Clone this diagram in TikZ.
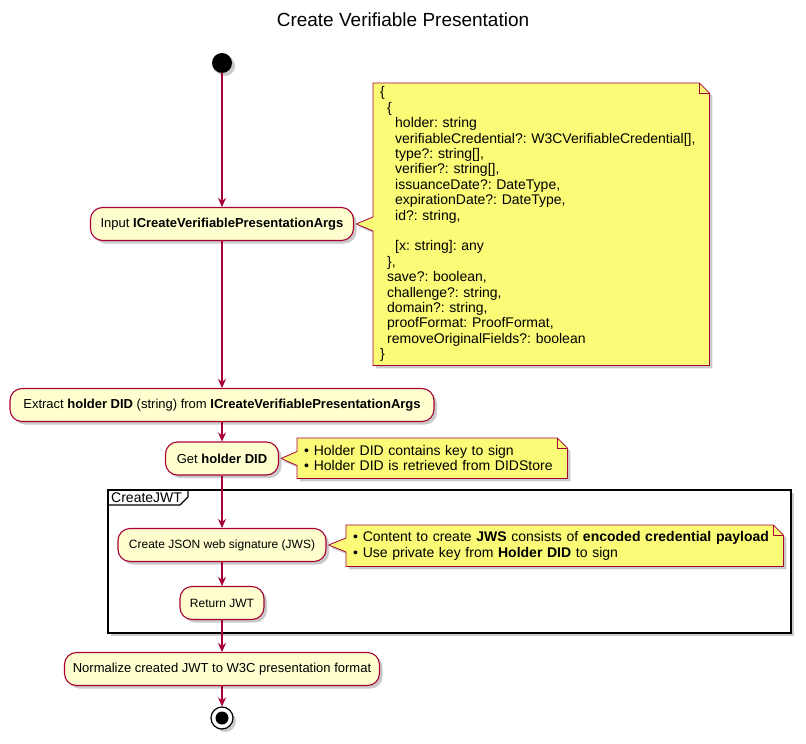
\documentclass[tikz,border=0pt]{standalone}
\usepackage{fontspec}
\setmainfont{Liberation Sans}
\usetikzlibrary{arrows.meta,shadows,backgrounds,calc}
\frenchspacing
\definecolor{umlred}{HTML}{A80036}
\definecolor{actfill}{HTML}{FEFECE}
\definecolor{notefill}{HTML}{FBFB77}
\tikzset{
  uml shadow/.style={drop shadow={shadow xshift=3pt, shadow yshift=-3pt, fill=black!35, opacity=0.6}},
  act/.style={rectangle, rounded corners=12pt, draw=umlred, line width=1.1pt, fill=actfill,
    minimum height=33pt, inner sep=0pt, uml shadow, font=\fontsize{13}{15}\selectfont},
  actsmall/.style={act, font=\fontsize{12}{14}\selectfont},
  notetext/.style={rectangle, inner xsep=7pt, inner ysep=0pt, align=left, anchor=north west,
    font=\fontsize{14}{15.4}\selectfont},
  notebody/.style={draw=umlred, line width=0.8pt, fill=notefill, uml shadow},
  noteline/.style={draw=umlred, line width=0.8pt},
  flow/.style={draw=umlred, line width=1.1pt, -{Stealth[length=9pt, width=8pt, inset=3pt]}},
  startdot/.style={circle, fill=black, minimum size=20pt, inner sep=0pt, uml shadow},
  stopdot/.style={circle, draw=black, line width=1.2pt, fill=white, minimum size=22pt, inner sep=0pt,
    uml shadow, path picture={\fill[black] (path picture bounding box.center) circle (6.5pt);}},
}
% note outline with folded corner and a pointer to the target node
\newcommand{\drawnote}[2]{%
  \begin{pgfonlayer}{background}
    \draw[notebody] (#1.north west) -- ([xshift=-10pt]#1.north east) -- ([yshift=-10pt]#1.north east)
      -- (#1.south east) -- (#1.south west) -- ($(#1.west |- #2.east)+(0,7)$)
      -- ([xshift=2pt]#2.east) -- ($(#1.west |- #2.east)+(0,-7)$) -- cycle;
    \draw[noteline] ([xshift=-10pt]#1.north east) |- ([yshift=-10pt]#1.north east);
  \end{pgfonlayer}}
\begin{document}
\begin{tikzpicture}[x=1pt, y=-1pt, line join=round]
\useasboundingbox (0,0) rectangle (806,744);
\node[font=\fontsize{19}{22}\selectfont] (title) at (403,20) {Create Verifiable Presentation};

% group frame
\begin{pgfonlayer}{background}
  \draw[black, line width=1.3pt, fill=white, uml shadow] (108,490) rectangle (791,633);
\end{pgfonlayer}
\draw[black, line width=1.1pt] (108,505) -- (180,505) -- (188,497) -- (188,490);
\node[anchor=west, inner sep=0pt, font=\fontsize{14}{16}\selectfont] (jwtlabel) at (111,497.5) {CreateJWT};

% activities
\node[startdot] (start) at (222,63) {};
\node[act, minimum width=263] (input) at (222,224) {Input \textbf{ICreateVerifiablePresentationArgs}};
\node[act, minimum width=424] (extract) at (222,405) {Extract \textbf{holder DID} (string) from \textbf{ICreateVerifiablePresentationArgs}};
\node[act, minimum width=113] (getdid) at (222,458.5) {Get \textbf{holder DID}};
\node[actsmall, minimum width=208] (jws) at (222,545) {Create JSON web signature (JWS)};
\node[actsmall, minimum width=84] (retjwt) at (222,603) {Return JWT};
\node[act, minimum width=315] (normalize) at (222,669) {Normalize created JWT to W3C presentation format};
\node[stopdot] (stop) at (222,718) {};

% notes
\node[notetext, text width=322, minimum height=282] (argsnote) at (373,83) {%
\{\\
\hspace*{7pt}\{\\
\hspace*{15pt}holder: string\\
\hspace*{15pt}verifiableCredential?: W3CVerifiableCredential[],\\
\hspace*{15pt}type?: string[],\\
\hspace*{15pt}verifier?: string[],\\
\hspace*{15pt}issuanceDate?: DateType,\\
\hspace*{15pt}expirationDate?: DateType,\\
\hspace*{15pt}id?: string,\\
\mbox{}\\
\hspace*{15pt}[x: string]: any\\
\hspace*{7pt}\},\\
\hspace*{7pt}save?: boolean,\\
\hspace*{7pt}challenge?: string,\\
\hspace*{7pt}domain?: string,\\
\hspace*{7pt}proofFormat: ProofFormat,\\
\hspace*{7pt}removeOriginalFields?: boolean\\
\}};
\drawnote{argsnote}{input}

\node[notetext, text width=256, minimum height=40] (didnote) at (297,438) {%
\textbullet{} Holder DID contains key to sign\\
\textbullet{} Holder DID is retrieved from DIDStore};
\drawnote{didnote}{getdid}

\node[notetext, text width=423, minimum height=41] (jwsnote) at (346,525) {%
\textbullet{} Content to create \textbf{JWS} consists of \textbf{encoded credential payload}\\
\textbullet{} Use private key from \textbf{Holder DID} to sign};
\drawnote{jwsnote}{jws}

% flow
\draw[flow] (start) -- (input);
\draw[flow] (input) -- (extract);
\draw[flow] (extract) -- (getdid);
\draw[flow] (getdid) -- (jws);
\draw[flow] (jws) -- (retjwt);
\draw[flow] (retjwt) -- (normalize);
\draw[flow] (normalize) -- (stop);
\end{tikzpicture}
\end{document}
